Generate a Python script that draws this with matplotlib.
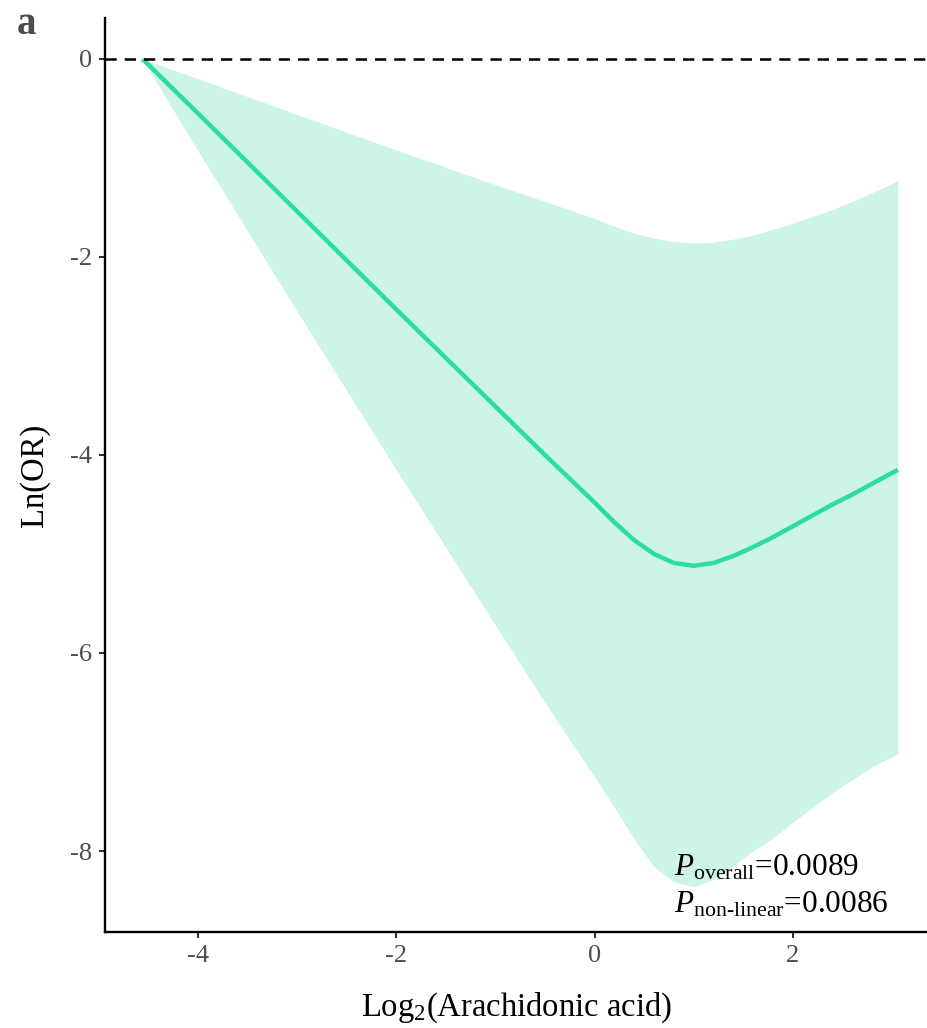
import matplotlib
matplotlib.use('Agg')
import matplotlib.pyplot as plt

plt.rcParams['font.family'] = ['Liberation Serif', 'DejaVu Serif']
plt.rcParams['mathtext.fontset'] = 'custom'
plt.rcParams['mathtext.rm'] = 'Liberation Serif'
plt.rcParams['mathtext.it'] = 'Liberation Serif:italic'

# Spline estimate of ln(OR) vs log2(arachidonic acid)
x = [-4.56, -4.0, -3.0, -2.0, -1.0, -0.5, -0.25, 0.0, 0.2, 0.4, 0.6, 0.8,
     1.0, 1.2, 1.4, 1.6, 1.8, 2.0, 2.2, 2.4, 2.6, 2.8, 3.06]
fit = [0.0, -0.55, -1.54, -2.53, -3.51, -4.00, -4.24, -4.48, -4.68, -4.86, -5.00, -5.09,
       -5.12, -5.09, -5.02, -4.93, -4.83, -4.72, -4.61, -4.50, -4.40, -4.29, -4.15]
upper = [0.0, -0.20, -0.56, -0.92, -1.27, -1.44, -1.525, -1.61, -1.69, -1.76, -1.81, -1.845,
         -1.86, -1.85, -1.82, -1.78, -1.72, -1.66, -1.59, -1.52, -1.44, -1.35, -1.23]
lower = [0.0, -0.93, -2.55, -4.15, -5.72, -6.50, -6.88, -7.25, -7.56, -7.88, -8.16, -8.31,
         -8.36, -8.29, -8.15, -8.00, -7.87, -7.71, -7.56, -7.41, -7.28, -7.15, -7.02]

xticks = [-4, -2, 0, 2]
yticks = [0, -2, -4, -6, -8]

line_col = '#2ddc9f'
fill_col = '#ccf5e8'

fig = plt.figure(figsize=(9.28, 10.28), dpi=100)
ax = fig.add_axes([0.113, 0.0934, 0.887, 0.8891])

ax.fill_between(x, lower, upper, color=fill_col, linewidth=0)
ax.plot(x, fit, color=line_col, linewidth=3.2, solid_capstyle='butt', solid_joinstyle='round')
ax.axhline(0, color='black', linestyle=(0, (4.5, 3.2)), linewidth=1.8)

ax.set_xlim(-4.94, 3.364)
ax.set_ylim(-8.818, 0.414)
ax.set_xticks(xticks)
ax.set_yticks(yticks)
ax.set_xticklabels([str(t) for t in xticks])
ax.set_yticklabels([str(t) for t in yticks])

for side in ['top', 'right']:
    ax.spines[side].set_visible(False)
for side in ['left', 'bottom']:
    ax.spines[side].set_linewidth(1.7)
    ax.spines[side].set_color('black')

ax.tick_params(axis='both', direction='out', length=4.5, width=1.5, color='#333333',
               labelcolor='#4d4d4d', labelsize=19, pad=5)

ax.set_xlabel('Log$_{2}$(Arachidonic acid)', fontsize=23.5, labelpad=17)
ax.set_ylabel('Ln(OR)', fontsize=23.5, labelpad=14)

ax.text(0.692, 0.062, r'$\mathit{P}_{\mathrm{overall}}$=0.0089', transform=ax.transAxes,
        fontsize=22.5, ha='left', va='baseline')
ax.text(0.692, 0.021, r'$\mathit{P}_{\text{non-linear}}$=0.0086', transform=ax.transAxes,
        fontsize=22.5, ha='left', va='baseline')

fig.text(0.018, 0.967, 'a', fontsize=28, fontweight='bold', color='#4d4d4d')

fig.savefig('out.png', dpi=100)
